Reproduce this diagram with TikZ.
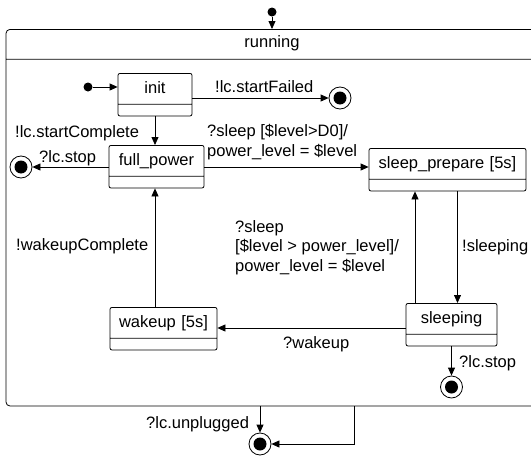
\documentclass[tikz,border=0pt]{standalone}
\usepackage{fontspec}
\setmainfont{Liberation Sans}
\usetikzlibrary{arrows.meta,shapes.multipart}

\tikzset{
  state/.style={draw, rounded corners=2pt, rectangle split, rectangle split parts=2, align=center, line width=0.8pt},
  trans/.style={draw, line width=0.8pt, -{Triangle[length=8pt,width=7pt]}},
  idot/.style={circle, fill, minimum size=9pt},
  final/.style={circle, draw, fill=white, minimum size=22pt, line width=0.8pt,
    path picture={\fill[black] (path picture bounding box.center) circle (6.5pt);}},
}
\newcommand{\nm}[1]{#1\rule[-10pt]{0pt}{30pt}\nodepart{two}\rule{0pt}{11pt}}

\begin{document}
\begin{tikzpicture}[x=1pt, y=-1pt, font=\fontsize{16.5}{19.5}\selectfont]
\tikzstyle{every node}+=[inner sep=0pt]
\useasboundingbox (0,0) rectangle (531,458);

% outer state
\node[state, rounded corners=4pt, text width=532pt, anchor=north] (running) at (272,29) {running\rule[-11pt]{0pt}{29pt}\nodepart{two}\rule{0pt}{346pt}};
\node[idot] (top) at (272,12) {};
\draw[trans] (top) -- (running.north);

% init
\node[state, text width=74pt, anchor=north] (init) at (155,73) {\nm{init}};
\node[idot] (idot1) at (88,87) {};
\draw[trans] (idot1) -- (idot1 -| init.west);
\node[final] (fin1) at (340,98) {};
\draw[trans] (init.east |- fin1) -- (fin1);
\node[anchor=base west] (lfail) at (215,92) {!lc.startFailed};

% full_power
\node[state, text width=95pt, anchor=north] (fullpower) at (156.5,145) {\nm{full\_power}};
\draw[trans] (init.south) -- (init.south |- fullpower.north);
\node[anchor=base west] (lcomplete) at (15,137) {!lc.startComplete};
\node[final] (fin2) at (21,167) {};
\draw[trans] (fullpower.west |- fin2) -- (fin2);
\node[anchor=base west] (lstop1) at (39,162) {?lc.stop};

% sleep_prepare
\node[state, text width=157pt, anchor=north] (sleepprep) at (447.5,148) {\nm{sleep\_prepare [5s]}};
\draw[trans] (fullpower.east |- fin2) -- (sleepprep.west |- fin2);
\node[anchor=north west, align=left] (lsleep1) at (207,124.5) {?sleep [\$level>D0]/\\power\_level = \$level};

% sleeping
\node[state, text width=91pt, anchor=north] (sleeping) at (451.5,303) {\nm{sleeping}};
\coordinate (down) at ([xshift=6pt]sleeping.north);
\draw[trans] (down |- sleepprep.south) -- (down);
\node[anchor=base west] (lsleeping) at (462,251) {!sleeping};
\coordinate (up) at ([xshift=-36.5pt]sleeping.north);
\draw[trans] (up) -- (up |- sleepprep.south);
\node[anchor=north west, align=left] (lsleep2) at (235,220) {?sleep\\{}[\$level > power\_level]/\\power\_level = \$level};

% wakeup
\node[state, text width=107pt, anchor=north] (wakeup) at (163.5,307) {\nm{wakeup [5s]}};
\coordinate (wk) at ([yshift=-25pt]sleeping.north west);
\draw[trans] (wk) -- (wk -| wakeup.east);
\node[anchor=base west] (lwakeup) at (283,348) {?wakeup};
\draw[trans] (init.south |- wakeup.north) -- (init.south |- fullpower.south);
\node[anchor=base west] (lwcomplete) at (16,250) {!wakeupComplete};

% stop states
\node[final] (fin3) at (451.5,387) {};
\draw[trans] (sleeping.south) -- (fin3);
\node[anchor=base west] (lstop2) at (459,367) {?lc.stop};

\node[final] (fin4) at (260,444) {};
\draw[trans] (fin4 |- running.south) -- (fin4);
\coordinate (rx) at (354,0);
\draw[trans] (rx |- running.south) |- (fin4);
\node[anchor=base west] (lunplug) at (146,428) {?lc.unplugged};
\end{tikzpicture}
\end{document}
